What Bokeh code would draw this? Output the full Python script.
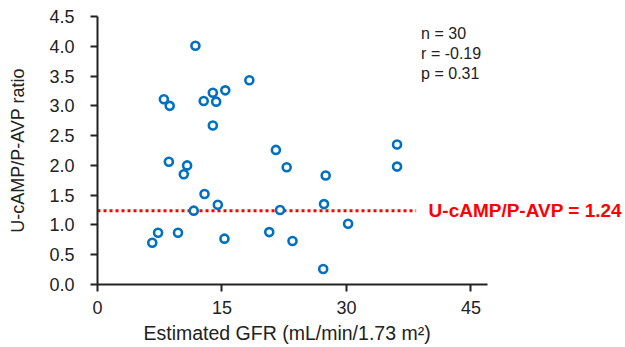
from bokeh.plotting import figure
from bokeh.models import Range1d, Label, FixedTicker, ColumnDataSource, Title
from bokeh.embed import file_html
from bokeh.resources import INLINE

# Data
egfr = [11.8, 18.3, 8.0, 8.7, 12.8, 13.9, 14.3, 15.4, 13.9, 8.6,
        10.8, 10.4, 21.5, 22.8, 12.9, 11.6, 14.5, 6.6, 7.3, 9.7,
        15.3, 20.7, 22.0, 23.5, 27.5, 27.3, 30.2, 27.2, 36.1, 36.1]
ratio = [4.01, 3.43, 3.11, 3.00, 3.08, 3.22, 3.07, 3.26, 2.67, 2.06,
         2.00, 1.85, 2.26, 1.97, 1.52, 1.24, 1.34, 0.70, 0.87, 0.87,
         0.77, 0.88, 1.25, 0.73, 1.83, 1.35, 1.02, 0.26, 2.35, 1.98]
cutoff = 1.24
cutoff_x = [0, 38.4]
x_ticks = [0, 15, 30, 45]
y_ticks = [0.0, 0.5, 1.0, 1.5, 2.0, 2.5, 3.0, 3.5, 4.0, 4.5]
stats_text = ["n = 30", "r = -0.19", "p = 0.31"]
x_label = "Estimated GFR (mL/min/1.73 m²)"
y_label = "U-cAMP/P-AVP ratio"

FONT = "Liberation Sans"

W, H = 625, 347
left, top, bottom = 97, 16, 63
# x axis runs 0..47 over 390 px; frame extends to the right edge for the label
px_per_unit = 390 / 47
x_end = 47 + (W - left - 390) / px_per_unit

p = figure(width=W, height=H, output_backend="svg", toolbar_location=None,
           x_range=Range1d(0, x_end), y_range=Range1d(0, 4.5),
           min_border_left=left, min_border_right=0, min_border_top=top,
           min_border_bottom=bottom)
p.outline_line_color = None
p.xgrid.visible = False
p.ygrid.visible = False
p.background_fill_color = "white"

for ax in (p.xaxis[0], p.yaxis[0]):
    ax.axis_line_color = "#222222"
    ax.axis_line_width = 2
    ax.major_tick_line_color = "#222222"
    ax.major_tick_line_width = 2
    ax.major_tick_out = 7
    ax.major_tick_in = 0
    ax.minor_tick_line_color = None
    ax.major_label_text_font = FONT
    ax.major_label_text_font_size = "18px"
    ax.major_label_text_color = "#222222"
    ax.axis_label_text_font = FONT
    ax.axis_label_text_font_size = "18px"
    ax.axis_label_text_font_style = "normal"
    ax.axis_label_text_color = "#222222"

p.xaxis.bounds = (0, 47)
p.xaxis.ticker = FixedTicker(ticks=x_ticks)
p.yaxis.ticker = FixedTicker(ticks=y_ticks)
p.yaxis.major_label_overrides = {t: f"{t:.1f}" for t in y_ticks}
p.yaxis.axis_label = y_label
p.xaxis.major_label_standoff = 9
p.yaxis.major_label_standoff = 16
p.yaxis.axis_label_standoff = 18

# x axis title, positioned under the 0..47 span of the axis
p.add_layout(Title(text=x_label, align="left", offset=46, standoff=6,
                   text_font=FONT, text_font_size="19.5px",
                   text_font_style="normal", text_color="#222222"), "below")

# cutoff line
p.line(cutoff_x, [cutoff, cutoff], line_color="#FF0000", line_width=3,
       line_dash="3 3")

src = ColumnDataSource(dict(x=egfr, y=ratio))
p.scatter("x", "y", source=src, marker="circle", size=8,
          fill_color="white", line_color="#0070C0", line_width=2.6)

p.add_layout(Label(x=39.9, y=cutoff, text=f"U-cAMP/P-AVP = {cutoff:.2f}",
                   text_font=FONT, text_font_size="19px", text_font_style="bold",
                   text_color="#FF0000", text_baseline="middle", text_align="left"))

for t, yy in zip(stats_text, [4.21, 3.88, 3.54]):
    p.add_layout(Label(x=39.0, y=yy, text=t, text_font=FONT,
                       text_font_size="16px", text_color="#222222",
                       text_baseline="middle", text_align="left"))

open("out.html", "w").write(file_html(p, INLINE))
